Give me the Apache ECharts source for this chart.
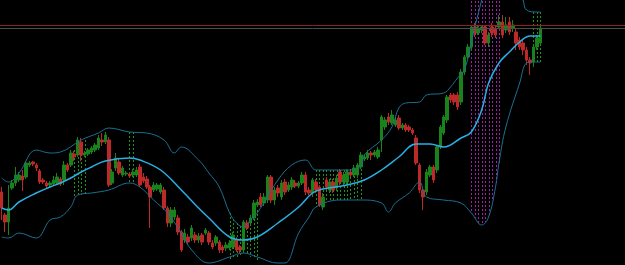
<!DOCTYPE html>
<html>
<head>
    <meta charset="utf-8">
    <title>Bollinger</title>
    <script src="https://cdn.jsdelivr.net/npm/echarts@6/dist/echarts.min.js"></script>
    <style>
        html, body { margin: 0; padding: 0; background: #000; }
        #chart { width: 625px; height: 265px; }
    </style>
</head>
<body>
<div id="chart"></div>
<script type="text/javascript">
    // 蜡烛数据 [open, close, low, high]
    var candles = [
        [73, 57, 45, 78], [50, 43, 33, 52], [43, 57, 30, 80], [77, 82, 75, 85], [82, 90, 79, 98],
        [85, 90, 83, 93], [89, 85, 74, 95], [88, 102, 86, 104], [100, 102, 98, 104], [103, 101, 99, 104],
        [100, 97, 94, 102], [94, 83, 81, 96], [85, 83, 81, 87], [82, 79, 77, 84], [80, 82, 78, 84],
        [81, 85, 79, 89], [82, 88, 80, 92], [86, 81, 79, 88], [85, 100, 80, 104], [100, 95, 93, 102],
        [100, 112, 98, 115], [111, 108, 104, 114], [110, 125, 108, 128], [123, 110, 104, 127], [110, 112, 108, 114],
        [111, 115, 109, 117], [113, 117, 111, 119], [115, 120, 113, 122], [117, 127, 115, 130], [125, 123, 119, 132],
        [123, 130, 121, 133], [125, 80, 78, 128], [82, 93, 80, 96], [97, 107, 94, 112], [103, 92, 90, 106],
        [90, 97, 88, 99], [91, 92, 89, 94], [91, 89, 87, 93], [90, 93, 88, 96], [90, 95, 88, 98],
        [98, 80, 78, 101], [88, 84, 82, 92], [86, 78, 76, 89], [78, 68, 37, 80], [75, 80, 73, 83],
        [76, 80, 74, 82], [73, 80, 71, 82], [75, 57, 55, 78], [57, 42, 38, 59], [42, 55, 38, 58],
        [48, 55, 45, 58], [47, 33, 30, 50], [33, 15, 13, 35], [25, 32, 22, 36], [28, 23, 20, 31],
        [27, 37, 24, 40], [30, 25, 22, 33], [25, 29, 22, 32], [30, 23, 20, 32], [32, 35, 30, 37],
        [32, 23, 20, 34], [22, 18, 16, 25], [22, 28, 19, 30], [23, 15, 12, 25], [18, 15, 12, 20],
        [17, 20, 14, 23], [17, 22, 15, 25], [18, 30, 16, 33], [25, 15, 13, 28], [18, 15, 12, 20],
        [15, 43, 12, 45], [42, 37, 35, 45], [42, 47, 40, 50], [47, 62, 45, 65], [60, 63, 58, 66],
        [68, 60, 58, 72], [62, 68, 59, 72], [65, 88, 62, 90], [88, 65, 62, 90], [65, 75, 60, 78],
        [77, 72, 68, 80], [68, 82, 65, 85], [83, 73, 70, 86], [75, 80, 73, 83], [78, 85, 75, 88],
        [82, 79, 77, 85], [79, 82, 77, 84], [82, 90, 80, 93], [90, 73, 70, 93], [75, 72, 70, 78],
        [72, 85, 68, 87], [83, 75, 72, 86], [78, 60, 58, 80], [58, 68, 55, 72], [85, 78, 75, 88],
        [75, 83, 72, 86], [83, 75, 72, 86], [77, 87, 74, 90], [93, 83, 80, 96], [83, 90, 80, 93],
        [83, 93, 80, 96], [93, 90, 88, 96], [90, 97, 88, 100], [90, 100, 87, 102], [98, 110, 96, 113],
        [106, 108, 104, 111], [107, 112, 105, 115], [112, 110, 105, 114], [110, 113, 108, 115], [108, 115, 106, 118],
        [125, 148, 113, 150], [138, 145, 135, 148], [148, 143, 140, 152], [142, 150, 140, 155], [140, 145, 138, 148],
        [147, 137, 135, 150], [137, 140, 135, 142], [140, 135, 133, 142], [138, 135, 133, 140], [135, 132, 130, 137],
        [127, 102, 100, 130], [100, 75, 72, 102], [75, 68, 55, 78], [73, 93, 70, 96], [90, 98, 88, 100],
        [98, 85, 82, 100], [95, 118, 92, 120], [118, 138, 116, 140], [132, 148, 130, 150], [145, 168, 142, 170],
        [170, 165, 162, 172], [170, 163, 160, 172], [170, 158, 155, 173], [163, 193, 160, 196], [193, 208, 190, 210],
        [208, 218, 205, 221], [218, 238, 215, 240], [238, 232, 228, 242], [232, 237, 230, 240], [235, 238, 232, 240],
        [238, 222, 220, 240], [222, 230, 218, 233], [238, 232, 228, 242], [236, 230, 227, 240], [238, 243, 236, 250],
        [243, 230, 227, 250], [235, 240, 232, 248], [243, 233, 230, 248], [237, 240, 233, 245], [233, 222, 215, 237],
        [225, 218, 215, 228], [222, 215, 210, 225], [215, 205, 200, 218], [205, 202, 190, 208], [203, 218, 198, 220],
        [218, 227, 215, 230], [222, 237, 220, 240]
    ];
    // 右侧空白的K线位置
    var emptySlots = 24;

    // 布林带 [K线序号, 值]
    var bandMid = [
        [0, 57], [2, 55], [5, 63], [10, 72], [14, 78], [17, 82], [20, 87], [23, 93], [26, 98], [30, 104],
        [37, 107], [40, 105], [46, 95], [52, 75], [57, 57], [60, 47], [66, 28], [70, 25], [74, 28], [80, 42],
        [86, 58], [90, 72], [93, 76], [100, 80], [105, 85], [110, 95], [115, 108], [120, 121], [124, 121],
        [128, 118], [133, 127], [136, 133], [139, 155], [141, 182], [144, 202], [147, 213], [150, 223],
        [153, 229], [156, 229]
    ];
    var bandUp = [
        [0, 87], [2, 83], [5, 92], [10, 115], [14, 112], [17, 113], [23, 125], [28, 132], [31, 137], [37, 133],
        [42, 132], [47, 125], [50, 112], [52, 118], [57, 105], [60, 92], [63, 78], [66, 52], [68, 42], [70, 38],
        [72, 45], [74, 52], [80, 85], [84, 100], [88, 105], [91, 95], [100, 95], [104, 98], [105, 110],
        [110, 125], [113, 138], [115, 157], [117, 162], [121, 163], [123, 170], [128, 172], [130, 178],
        [132, 187], [134, 195], [137, 238], [139, 265], [142, 310], [145, 320], [148, 300], [151, 265],
        [152, 255], [155, 253], [156, 253]
    ];
    var bandLow = [
        [0, 28], [2, 27], [5, 32], [10, 27], [14, 45], [17, 48], [20, 58], [22, 70], [26, 72], [31, 75],
        [37, 82], [40, 78], [44, 65], [48, 52], [52, 32], [55, 15], [60, 2], [66, 8], [70, 12], [74, 8],
        [80, 2], [82, 2], [86, 32], [89, 48], [91, 58], [98, 65], [104, 65], [110, 62], [112, 53], [114, 62],
        [118, 72], [121, 83], [123, 68], [128, 65], [133, 62], [136, 52], [139, 40], [141, 48], [143, 78],
        [144, 102], [146, 138], [150, 182], [152, 202], [154, 203], [156, 203]
    ];

    // 虚线标记 [K线序号, 下沿, 上沿]
    var squeezeMarks = [
        [21, 69, 115], [22, 70, 120], [23, 70, 123], [24, 71, 125],
        [37, 82, 133], [38, 81, 133],
        [66, 6, 52], [67, 6, 46], [68, 8, 42], [69, 10, 39], [70, 11, 38], [71, 10, 42], [72, 8, 45], [73, 6, 50], [74, 5, 55],
        [91, 58, 95], [92, 60, 95], [93, 62, 95], [94, 63, 95], [95, 64, 95], [96, 65, 95], [97, 65, 95],
        [98, 65, 95], [99, 65, 95], [100, 65, 95], [101, 65, 96], [102, 65, 97], [103, 65, 98], [104, 65, 100],
        [154, 203, 253], [155, 203, 253], [156, 203, 253]
    ];
    var expandMarks = [
        [136, 52, 300], [137, 47, 300], [138, 42, 300], [139, 40, 300], [140, 43, 300],
        [141, 50, 300], [142, 65, 300], [143, 82, 300], [144, 102, 300]
    ];

    // 水平价位线
    var levelRed = 240;
    var levelGray = 236.7;

    var slots = [];
    for (var i = 0; i < candles.length + emptySlots; i++) {
        slots.push(String(i));
    }

    function dottedLine(color) {
        return function (params, api) {
            var top = api.coord([api.value(0), api.value(2)]);
            var bot = api.coord([api.value(0), api.value(1)]);
            var x = Math.round(top[0]) + 0.5;
            return {
                type: 'line',
                shape: {x1: x, y1: top[1], x2: x, y2: bot[1]},
                style: {stroke: color, lineWidth: 1, lineDash: [2, 2]}
            };
        };
    }

    var myChart = echarts.init(document.getElementById('chart'));
    myChart.setOption({
        backgroundColor: '#000000',
        animation: false,
        grid: {left: 0, right: 0, top: 0, bottom: 0},
        xAxis: {
            type: 'category',
            data: slots,
            show: false
        },
        yAxis: {
            type: 'value',
            min: 0,
            max: 265,
            show: false
        },
        series: [
            {
                type: 'custom',
                renderItem: dottedLine('#a81ea8'),
                encode: {x: 0, y: [1, 2]},
                data: expandMarks,
                silent: true,
                z: 1
            },
            {
                type: 'custom',
                renderItem: dottedLine('#1c951c'),
                encode: {x: 0, y: [1, 2]},
                data: squeezeMarks,
                silent: true,
                z: 1
            },
            {
                type: 'candlestick',
                data: candles,
                barWidth: 3,
                z: 3,
                itemStyle: {
                    color: '#1a821a',
                    color0: '#bd2828',
                    borderColor: '#1a821a',
                    borderColor0: '#bd2828',
                    borderWidth: 1
                },
                markLine: {
                    silent: true,
                    symbol: 'none',
                    label: {show: false},
                    data: [
                        {yAxis: levelRed, lineStyle: {color: '#8e2222', width: 1, type: 'solid'}},
                        {yAxis: levelGray, lineStyle: {color: '#4c4c4c', width: 1, type: 'solid'}}
                    ]
                }
            },
            {
                type: 'line',
                data: bandUp,
                smooth: 0.4,
                symbol: 'none',
                z: 4,
                lineStyle: {color: '#1b6f93', width: 1}
            },
            {
                type: 'line',
                data: bandLow,
                smooth: 0.4,
                symbol: 'none',
                z: 4,
                lineStyle: {color: '#1b6f93', width: 1}
            },
            {
                type: 'line',
                data: bandMid,
                smooth: 0.4,
                symbol: 'none',
                z: 5,
                lineStyle: {color: '#2ab0e6', width: 1.5}
            }
        ]
    });
</script>
</body>
</html>
